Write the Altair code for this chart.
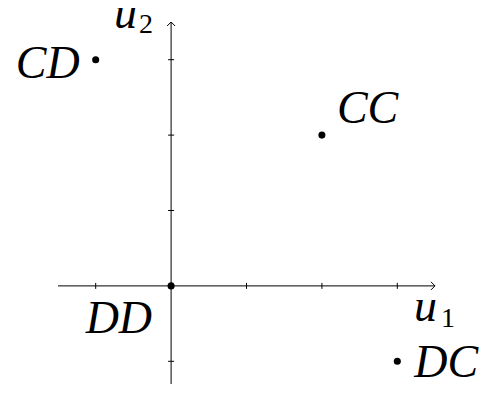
import altair as alt
import pandas as pd

# data
labels = ["CC", "CD", "DC", "DD"]
u1 = [2, -1, 3, 0]
u2 = [2, 3, -1, 0]
x_ticks = [-1, 1, 2, 3]
y_ticks = [-1, 1, 2, 3]
axis_min = -1.5
axis_max = 3.5

pts = pd.DataFrame({"label": labels, "u1": u1, "u2": u2})
xt = pd.DataFrame({"u1": x_ticks, "u2": [0] * len(x_ticks)})
yt = pd.DataFrame({"u1": [0] * len(y_ticks), "u2": y_ticks})
axes_df = pd.DataFrame({"u1": [axis_min, 0], "u1e": [axis_max, 0],
                        "u2": [0, axis_min], "u2e": [0, axis_max]})
xarrow = pd.DataFrame({"u1": [axis_max], "u2": [0]})
yarrow = pd.DataFrame({"u1": [0], "u2": [axis_max]})

PX = 377
xs = alt.Scale(domain=[axis_min, axis_max], range=[0, PX], nice=False, zero=False)
ys = alt.Scale(domain=[axis_min, axis_max], range=[PX, 0], nice=False, zero=False)


def X(f="u1"):
    return alt.X(f, type="quantitative", scale=xs, axis=None)


def Y(f="u2"):
    return alt.Y(f, type="quantitative", scale=ys, axis=None)


FONT = "Liberation Serif"
BIG = 46
SUB = 28

axes = alt.Chart(axes_df).mark_rule(color="black", strokeWidth=1).encode(
    x=X("u1"), x2="u1e", y=Y("u2"), y2="u2e")

xtick = alt.Chart(xt).mark_point(shape="M0,-1L0,1", filled=False, color="black",
                                 strokeWidth=1, size=36, opacity=1).encode(x=X(), y=Y())
ytick = alt.Chart(yt).mark_point(shape="M-1,0L1,0", filled=False, color="black",
                                 strokeWidth=1, size=36, opacity=1).encode(x=X(), y=Y())

xarr = alt.Chart(xarrow).mark_point(shape="M-1,-1L0,0L-1,1", filled=False, color="black",
                                    strokeWidth=1, size=64, opacity=1).encode(x=X(), y=Y())
yarr = alt.Chart(yarrow).mark_point(shape="M-1,1L0,0L1,1", filled=False, color="black",
                                    strokeWidth=1, size=64, opacity=1).encode(x=X(), y=Y())

dots = alt.Chart(pts).mark_circle(color="black", size=50, opacity=1).encode(x=X(), y=Y())

offsets = {
    "CC": dict(dx=15, dy=-12, align="left"),
    "CD": dict(dx=-16, dy=18, align="right"),
    "DC": dict(dx=17, dy=16, align="left"),
    "DD": dict(dx=-19, dy=47, align="right"),
}
label_layers = []
for lab in labels:
    o = offsets[lab]
    label_layers.append(
        alt.Chart(pts).transform_filter(alt.datum.label == lab).mark_text(
            font=FONT, fontStyle="italic", fontSize=BIG, color="black",
            baseline="alphabetic", **o).encode(x=X(), y=Y(), text="label:N"))

u1_main = alt.Chart(xarrow).mark_text(font=FONT, fontStyle="italic", fontSize=BIG, color="black",
                                      align="left", baseline="alphabetic", dx=-21, dy=35,
                                      text="u").encode(x=X(), y=Y())
u1_sub = alt.Chart(xarrow).mark_text(font=FONT, fontSize=SUB, color="black",
                                     align="left", baseline="alphabetic", dx=6, dy=41,
                                     text="1").encode(x=X(), y=Y())
u2_main = alt.Chart(yarrow).mark_text(font=FONT, fontStyle="italic", fontSize=BIG, color="black",
                                      align="left", baseline="alphabetic", dx=-57, dy=6,
                                      text="u").encode(x=X(), y=Y())
u2_sub = alt.Chart(yarrow).mark_text(font=FONT, fontSize=SUB, color="black",
                                     align="left", baseline="alphabetic", dx=-32, dy=11,
                                     text="2").encode(x=X(), y=Y())

chart = alt.layer(axes, xtick, ytick, xarr, yarr, dots, *label_layers,
                  u1_main, u1_sub, u2_main, u2_sub).properties(
    width=PX, height=362,
    background="white",
    autosize=alt.AutoSizeParams(type="none"),
    padding={"left": 50, "top": 14, "right": 46, "bottom": 0},
).configure_view(strokeWidth=0)

chart.save("out.html", embed_options={"renderer": "svg", "actions": False})
